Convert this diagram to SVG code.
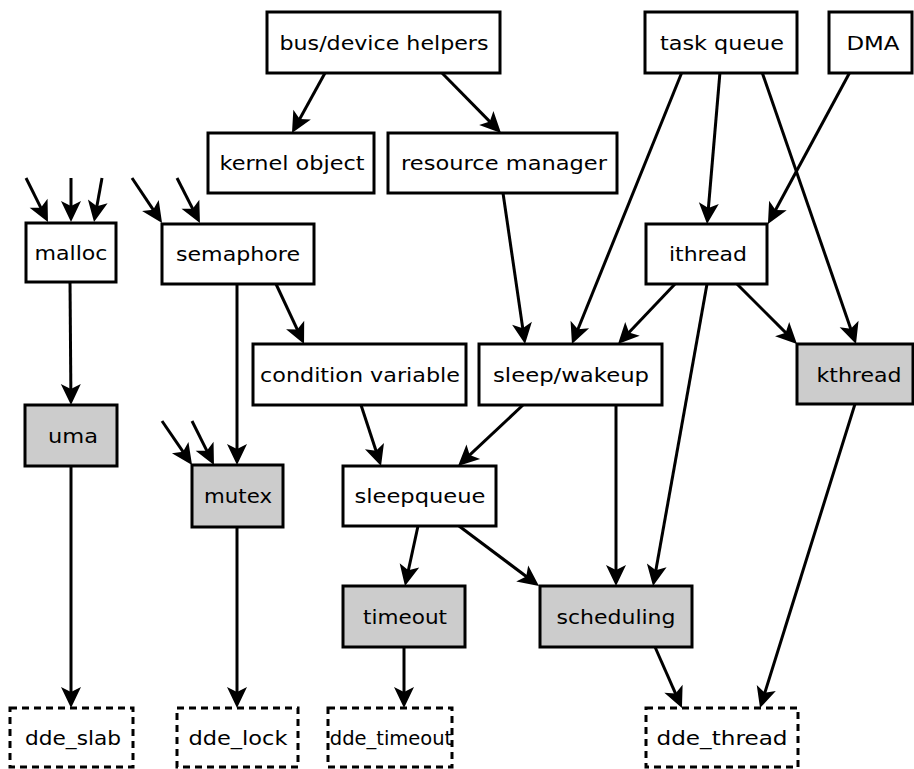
<svg xmlns="http://www.w3.org/2000/svg" width="914" height="769" viewBox="0 0 914 769">
  <style>
    .box { fill: #ffffff; stroke: #000000; stroke-width: 3; }
    .gray { fill: #cccccc; }
    .dde { fill: #ffffff; stroke: #000000; stroke-width: 3; stroke-dasharray: 7 5; }
    .lbl { font-family: "DejaVu Sans", "Liberation Sans", sans-serif; font-size: 20px; fill: #000000; text-anchor: middle; }
    .edge { fill: none; stroke: #000000; stroke-width: 3; marker-end: url(#arrow); }
  </style>
  <defs>
    <marker id="arrow" markerUnits="userSpaceOnUse" viewBox="0 -11 24 22" markerWidth="24" markerHeight="22" refX="11" refY="0" orient="auto" overflow="visible">
      <path d="M0,-10 L21,0 L0,10 L5,0 Z" fill="#000000"/>
    </marker>
  </defs>

  <rect width="914" height="769" fill="#ffffff"/>

  <!-- connectors -->
  <g id="edges">
    <path class="edge" d="M325,73 L296.8,124.2"/>
    <path class="edge" d="M442,73 L494,125.9"/>
    <path class="edge" d="M503,193 L523.6,334.1"/>
    <path class="edge" d="M682,72 L575.7,334.7"/>
    <path class="edge" d="M720,72 L707.9,214"/>
    <path class="edge" d="M762,72 L852.7,334.5"/>
    <path class="edge" d="M850,72 L772.7,215.2"/>
    <path class="edge" d="M675,284 L624.9,336.8"/>
    <path class="edge" d="M737,284 L789.9,336.9"/>
    <path class="edge" d="M707,284 L654.8,576.2"/>
    <path class="edge" d="M616,405 L616,576"/>
    <path class="edge" d="M523,405 L465.3,459.2"/>
    <path class="edge" d="M361,405 L377.9,456.5"/>
    <path class="edge" d="M276,284 L299.8,334.9"/>
    <path class="edge" d="M237,284 L237,455"/>
    <path class="edge" d="M418,526 L407.1,576.2"/>
    <path class="edge" d="M459,526 L531,580"/>
    <path class="edge" d="M70,281 L70.9,395"/>
    <path class="edge" d="M71,466 L71,698"/>
    <path class="edge" d="M237,527 L237,698"/>
    <path class="edge" d="M404,647 L404,698"/>
    <path class="edge" d="M655,647 L677.9,698.9"/>
    <path class="edge" d="M855,404 L763,698.5"/>
    <!-- incoming stubs without a drawn source -->
    <path class="edge" d="M26,178 L43.5,213.1"/>
    <path class="edge" d="M71,178 L71,212"/>
    <path class="edge" d="M102,178 L95.8,212.2"/>
    <path class="edge" d="M132,178 L156.5,214.7"/>
    <path class="edge" d="M177,178 L195.4,214.1"/>
    <path class="edge" d="M162,421 L186.4,456.7"/>
    <path class="edge" d="M192,421 L209.5,456.1"/>
  </g>

  <!-- nodes -->
  <g id="bus_device_helpers"><rect class="box" x="267" y="12" width="233" height="61"/><text class="lbl" x="384" y="50" textLength="209" lengthAdjust="spacingAndGlyphs">bus/device helpers</text></g>
  <g id="kernel_object"><rect class="box" x="208" y="133" width="166" height="60"/><text class="lbl" x="292" y="170" textLength="145" lengthAdjust="spacingAndGlyphs">kernel object</text></g>
  <g id="resource_manager"><rect class="box" x="388" y="133" width="229" height="60"/><text class="lbl" x="504" y="170" textLength="206" lengthAdjust="spacingAndGlyphs">resource manager</text></g>
  <g id="task_queue"><rect class="box" x="645" y="12" width="152" height="61"/><text class="lbl" x="722" y="50" textLength="124" lengthAdjust="spacingAndGlyphs">task queue</text></g>
  <g id="dma"><rect class="box" x="829" y="12" width="83" height="61"/><text class="lbl" x="873" y="50" textLength="53" lengthAdjust="spacingAndGlyphs">DMA</text></g>
  <g id="malloc"><rect class="box" x="26" y="223" width="90" height="59"/><text class="lbl" x="71" y="260" textLength="73" lengthAdjust="spacingAndGlyphs">malloc</text></g>
  <g id="semaphore"><rect class="box" x="162" y="224" width="152" height="60"/><text class="lbl" x="238" y="261" textLength="124" lengthAdjust="spacingAndGlyphs">semaphore</text></g>
  <g id="ithread"><rect class="box" x="646" y="224" width="121" height="60"/><text class="lbl" x="708" y="261" textLength="78" lengthAdjust="spacingAndGlyphs">ithread</text></g>
  <g id="condition_variable"><rect class="box" x="253" y="344" width="213" height="61"/><text class="lbl" x="360" y="382" textLength="200" lengthAdjust="spacingAndGlyphs">condition variable</text></g>
  <g id="sleep_wakeup"><rect class="box" x="479" y="344" width="183" height="61"/><text class="lbl" x="571" y="382" textLength="156" lengthAdjust="spacingAndGlyphs">sleep/wakeup</text></g>
  <g id="kthread"><rect class="box gray" x="797" y="344" width="116" height="60"/><text class="lbl" x="859" y="382" textLength="85" lengthAdjust="spacingAndGlyphs">kthread</text></g>
  <g id="uma"><rect class="box gray" x="25" y="405" width="92" height="61"/><text class="lbl" x="73" y="443" textLength="50" lengthAdjust="spacingAndGlyphs">uma</text></g>
  <g id="mutex"><rect class="box gray" x="192" y="465" width="91" height="62"/><text class="lbl" x="238" y="503" textLength="68" lengthAdjust="spacingAndGlyphs">mutex</text></g>
  <g id="sleepqueue"><rect class="box" x="343" y="466" width="153" height="60"/><text class="lbl" x="420" y="503" textLength="131" lengthAdjust="spacingAndGlyphs">sleepqueue</text></g>
  <g id="timeout"><rect class="box gray" x="343" y="586" width="122" height="61"/><text class="lbl" x="405" y="624" textLength="84" lengthAdjust="spacingAndGlyphs">timeout</text></g>
  <g id="scheduling"><rect class="box gray" x="540" y="586" width="152" height="61"/><text class="lbl" x="616" y="624" textLength="119" lengthAdjust="spacingAndGlyphs">scheduling</text></g>
  <g id="dde_slab"><rect class="dde" x="10" y="708" width="123" height="59"/><text class="lbl" x="73" y="745" textLength="96" lengthAdjust="spacingAndGlyphs">dde_slab</text></g>
  <g id="dde_lock"><rect class="dde" x="177" y="708" width="121" height="59"/><text class="lbl" x="238" y="745" textLength="99" lengthAdjust="spacingAndGlyphs">dde_lock</text></g>
  <g id="dde_timeout"><rect class="dde" x="328" y="708" width="124" height="59"/><text class="lbl" x="391" y="745" style="font-size:19.5px">dde_timeout</text></g>
  <g id="dde_thread"><rect class="dde" x="646" y="708" width="152" height="59"/><text class="lbl" x="722" y="745" textLength="131" lengthAdjust="spacingAndGlyphs">dde_thread</text></g>
</svg>
